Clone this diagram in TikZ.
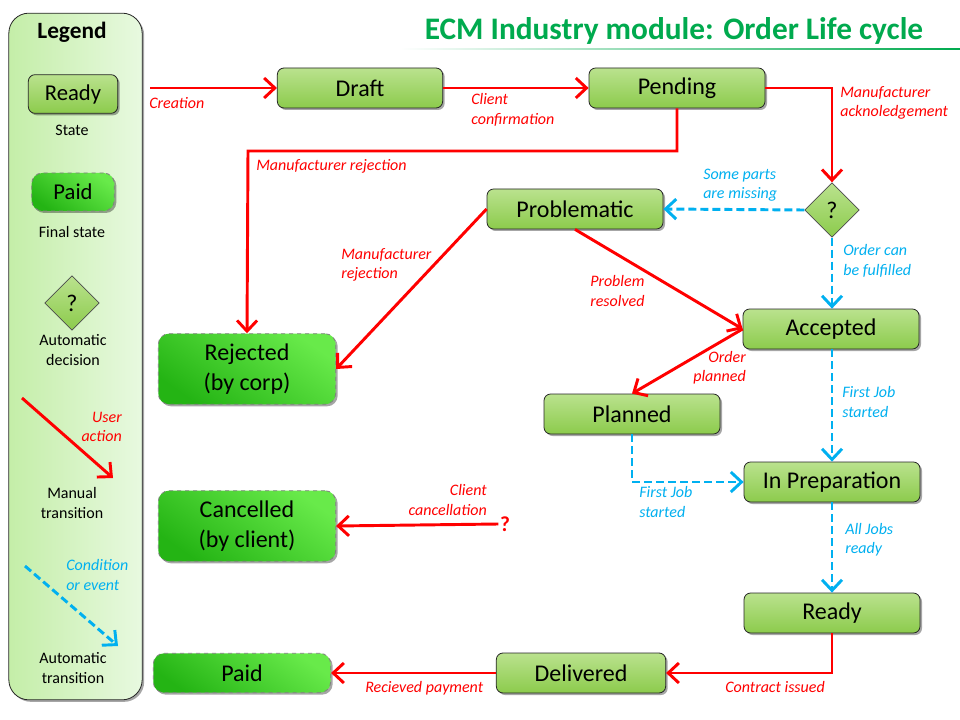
\documentclass[tikz,border=0pt]{standalone}
\usepackage{fontspec}
\setmainfont{Carlito}
\usetikzlibrary{shapes.geometric, arrows.meta, shadows, positioning}
\definecolor{usrred}{RGB}{255,0,0}
\definecolor{autoblue}{RGB}{0,176,240}
\definecolor{titlegreen}{RGB}{0,170,78}
\definecolor{statetop}{RGB}{186,226,142}
\definecolor{statebot}{RGB}{140,203,76}
\definecolor{finaltop}{RGB}{104,234,74}
\definecolor{finalbot}{RGB}{36,180,20}
\definecolor{legleft}{RGB}{196,238,168}
\definecolor{legright}{RGB}{232,249,224}

\begin{document}
\begin{tikzpicture}[x=0.75pt,y=-0.75pt,
	>={Straight Barb[length=8pt,width=15pt]},
	shadowed/.style={drop shadow={shadow xshift=1.5pt,shadow yshift=-1.5pt,fill=black,opacity=0.35}},
	state/.style={draw=black!85,line width=0.6pt,rounded corners=5pt,
		top color=statetop,bottom color=statebot,shadowed,
		minimum width=132pt,minimum height=30pt,font=\fontsize{18}{20}\selectfont},
	final/.style={draw=black!50,dashed,line width=0.6pt,rounded corners=8pt,
		top color=finaltop,bottom color=finalbot,shading angle=-35,shadowed,
		minimum width=133pt,align=center,font=\fontsize{18}{22}\selectfont},
	decision/.style={diamond,draw=black!70,line width=0.5pt,inner sep=0pt,
		top color=statetop,bottom color=statebot,minimum width=41pt,minimum height=41pt,
		font=\fontsize{18}{20}\selectfont},
	manual/.style={->,draw=usrred,line width=2.2pt},
	automatic/.style={->,draw=autoblue,line width=2.2pt,dash pattern=on 6pt off 3pt},
	ulabel/.style={text=usrred,inner sep=0pt,font=\itshape\fontsize{12}{14.5}\selectfont},
	alabel/.style={text=autoblue,inner sep=0pt,font=\itshape\fontsize{12}{14.5}\selectfont},
	caption/.style={inner sep=0pt,align=center,font=\fontsize{12}{14.5}\selectfont}]
	\useasboundingbox[fill=white] (0,0) rectangle (960,720);

	\node[draw=black!85,line width=0.6pt,rounded corners=15pt,left color=legleft,right color=legright,
		shadowed,minimum width=100pt,minimum height=515pt] (legend) at (75.5,356.5) {};
	\node[font=\bfseries\fontsize{17.5}{20}\selectfont] (legtitle) at (72,32) {Legend};
	\node[state,minimum width=67pt,minimum height=29pt,font=\fontsize{17}{20}\selectfont] (legstate) at (73,94) {Ready};
	\node[caption] (legstatecap) at (72,130) {State};
	\node[final,minimum width=62pt,minimum height=28.5pt,font=\fontsize{17}{20}\selectfont] (legfinal) at (73,192) {Paid};
	\node[caption] (legfinalcap) at (72,232) {Final state};
	\node[decision] (legdec) at (72,303) {?};
	\node[caption] (legdeccap) at (73,350) {Automatic\\decision};
	\coordinate (legman1) at (22,398);
	\coordinate (legman2) at (113,478);
	\draw[manual] (legman1) -- (legman2);
	\node[ulabel,anchor=east,align=right] (legmanlab) at (122,427) {User\\action};
	\node[caption] (legmancap) at (72,503) {Manual\\transition};
	\coordinate (legauto1) at (25,566);
	\coordinate (legauto2) at (118,646);
	\draw[automatic] (legauto1) -- (legauto2);
	\node[alabel,anchor=west,align=left] (legautolab) at (66,575) {Condition\\or event};
	\node[caption] (legautocap) at (73,668) {Automatic\\transition};

	\node[text=titlegreen,font=\bfseries\fontsize{23.5}{26}\selectfont] (title) at (674,31) {ECM Industry module: Order Life cycle};
	\shade[left color=white,right color=titlegreen] (400,48.5) rectangle (960,50);

	\node[state,minimum width=124pt] (draft) at (360,88) {Draft};
	\node[state] (pend) at (677,88) {Pending};
	\node[decision] (dec) at (832,210) {?};
	\node[state] (prob) at (575,209) {Problematic};
	\node[state] (acc) at (831,329) {Accepted};
	\node[state] (plan) at (632,414) {Planned};
	\node[state] (prep) at (832,482) {In Preparation};
	\node[state] (ready) at (832,613) {Ready};
	\node[state,minimum width=127pt] (deliv) at (581,673) {Delivered};
	\node[final,minimum height=53pt] (rej) at (247,369) {Rejected\\(by corp)};
	\node[final,minimum height=53pt] (canc) at (247,526) {Cancelled\\(by client)};
	\node[final,minimum height=29.5pt] (paid) at (242,673) {Paid};
	\node[text=usrred,inner sep=1pt,font=\bfseries\fontsize{16}{18}\selectfont] (cancq) at (505,524) {?};

	\coordinate (start) at (150,88);
	\coordinate (rejbend) at (248,151);
	\draw[manual] (start) -- (draft.west);
	\draw[manual] (draft.east) -- (pend.west);
	\draw[manual] (pend.east) -| (dec.north);
	\draw[manual] (pend.south) |- (rejbend) -- (rej.north);
	\draw[automatic] (dec.west) -- (prob.east);
	\draw[automatic] (dec.south) -- (acc.north -| dec.south);
	\draw[manual] (prob.west) -- (rej.east);
	\draw[manual] (prob.south) -- (acc.west);
	\draw[manual] (acc.west) -- (plan.north);
	\draw[automatic] (acc.south -| prep.north) -- (prep.north);
	\draw[automatic] (plan.south) |- (prep.west);
	\draw[automatic] (prep.south) -- (ready.north);
	\draw[manual] (ready.south) |- (deliv.east);
	\draw[manual] (deliv.west) -- (paid.east);
	\draw[manual] (cancq.west) -- (canc.east);

	\node[ulabel,anchor=west] (lcreation) at (149,103) {Creation};
	\node[ulabel,anchor=west,align=left] (lconfirm) at (471,110) {Client\\confirmation};
	\node[ulabel,anchor=west,align=left] (lack) at (840,103) {Manufacturer\\acknoledgement};
	\node[ulabel,anchor=west] (lrejtop) at (256,166) {Manufacturer rejection};
	\node[alabel,anchor=west,align=left] (lmissing) at (703,185) {Some parts\\are missing};
	\node[alabel,anchor=west,align=left] (lfulfil) at (843,261) {Order can\\be fulfilled};
	\node[ulabel,anchor=west,align=left] (lrejprob) at (341,265) {Manufacturer\\rejection};
	\node[ulabel,anchor=west,align=left] (lresolved) at (590,291) {Problem\\resolved};
	\node[ulabel,anchor=east,align=right] (lplanned) at (746,368) {Order\\planned};
	\node[alabel,anchor=west,align=left] (lfirstjob) at (842,402) {First Job\\started};
	\node[alabel,anchor=west,align=left] (lfirstjobplan) at (639,502) {First Job\\started};
	\node[alabel,anchor=west,align=left] (ljobsready) at (845,540) {All Jobs\\ready};
	\node[ulabel,anchor=west] (lcontract) at (725,687) {Contract issued};
	\node[ulabel,anchor=west] (lpayment) at (365,688) {Recieved payment};
	\node[ulabel,anchor=east,align=right] (lcancel) at (487,500) {Client\\cancellation};
\end{tikzpicture}
\end{document}
